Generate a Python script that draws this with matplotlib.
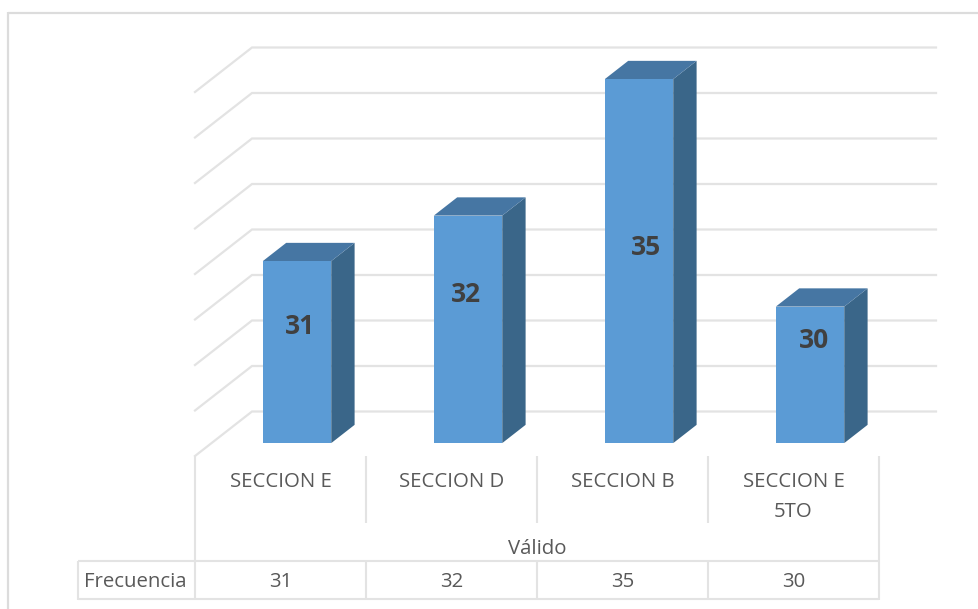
# -*- encoding: utf-8 -*-
import matplotlib
matplotlib.use('Agg')
import matplotlib.pyplot as plt
from matplotlib.lines import Line2D
from matplotlib.patches import Polygon

# 数据
categories = ['SECCION E', 'SECCION D', 'SECCION B', 'SECCION E\n5TO']
values = [31, 32, 35, 30]
group_label = 'Válido'
row_label = 'Frecuencia'
axis_ticks = [27, 28, 29, 30, 31, 32, 33, 34, 35]

W, H = 979, 609
GRID = '#e3e3e3'
TEXT = '#595959'
FS = 14.7

plt.rcParams['font.family'] = ['Open Sans', 'DejaVu Sans']
fig = plt.figure(figsize=(W / 100, H / 100), dpi=100)


def fx(x):
    return x / W


def fy(y):
    return 1 - y / H


def line(xs, ys, color=GRID, lw=1.5):
    fig.add_artist(Line2D([fx(x) for x in xs], [fy(y) for y in ys],
                          color=color, lw=lw, solid_capstyle='butt'))


# 外框：只有上边和左边
line([8.5, 979], [12.5, 12.5], color='#dcdcdc', lw=1.6)
line([8.5, 8.5], [12, 609], color='#dcdcdc', lw=1.6)

# 坐标轴：x 每类 171 px，y 每单位 45.5 px
ax = fig.add_axes([fx(195), fy(456), 684 / W, 364 / H], zorder=2)
ax.set_xlim(-0.5, 3.5)
ax.set_ylim(27, 35)
ax.axis('off')
ax.patch.set_alpha(0)

# 斜投影：depth=1 时 x、y 的偏移（数据单位）
DX, DY = 1 / 3, 0.978


def proj(x, v, depth):
    return x + DX * depth, v + DY * depth


for tick in axis_ticks:
    x0, y0 = proj(-0.5, tick, 0)
    x1, y1 = proj(-0.5, tick, 1)
    x2, y2 = proj(3.5, tick, 1)
    ax.plot([x0, x1, x2], [y0, y1, y2], color=GRID, lw=1.6, clip_on=False,
            solid_joinstyle='miter', zorder=1)

# 柱子
half = 0.2
d0, d1 = 0.29, 0.70
base = axis_ticks[0]
for i, v in enumerate(values):
    l, r = i - half, i + half
    front = [proj(l, base, d0), proj(r, base, d0), proj(r, v, d0), proj(l, v, d0)]
    side = [proj(r, base, d0), proj(r, base, d1), proj(r, v, d1), proj(r, v, d0)]
    top = [proj(l, v, d0), proj(r, v, d0), proj(r, v, d1), proj(l, v, d1)]
    ax.add_patch(Polygon(side, closed=True, fc='#3a6689', ec='none', clip_on=False, zorder=3))
    ax.add_patch(Polygon(top, closed=True, fc='#4676a3', ec='none', clip_on=False, zorder=3))
    ax.add_patch(Polygon(front, closed=True, fc='#5b9bd5', ec='none', clip_on=False, zorder=4))

# 数据标签的位置取自原图
label_px = [(300, 326), (466, 294), (646, 247), (814, 341)]
for (px, py), v in zip(label_px, values):
    fig.text(fx(px), fy(py), str(v), ha='center', va='center', fontsize=19,
             fontweight='bold', color='#404040', zorder=5)

# 下方表格
cell_x = [195, 366, 537, 708, 879]
for x in cell_x[1:-1]:
    line([x, x], [456, 523])
    line([x, x], [561, 600])
line([195, 195], [456, 600])
line([879, 879], [456, 600])
line([78, 879], [561, 561])
line([78, 879], [599, 599])
line([78, 78], [561, 600])

for i, name in enumerate(categories):
    xc = (cell_x[i] + cell_x[i + 1]) / 2
    for j, part in enumerate(name.split('\n')):
        fig.text(fx(xc), fy(482 + 30 * j), part, ha='center', va='center',
                 fontsize=FS, color=TEXT)
    fig.text(fx(xc), fy(582), str(values[i]), ha='center', va='center',
             fontsize=FS, color=TEXT)
fig.text(fx(537), fy(549), group_label, ha='center', va='center', fontsize=FS, color=TEXT)
fig.text(fx(135), fy(582), row_label, ha='center', va='center', fontsize=FS, color=TEXT)

fig.savefig('out.png', dpi=100)
